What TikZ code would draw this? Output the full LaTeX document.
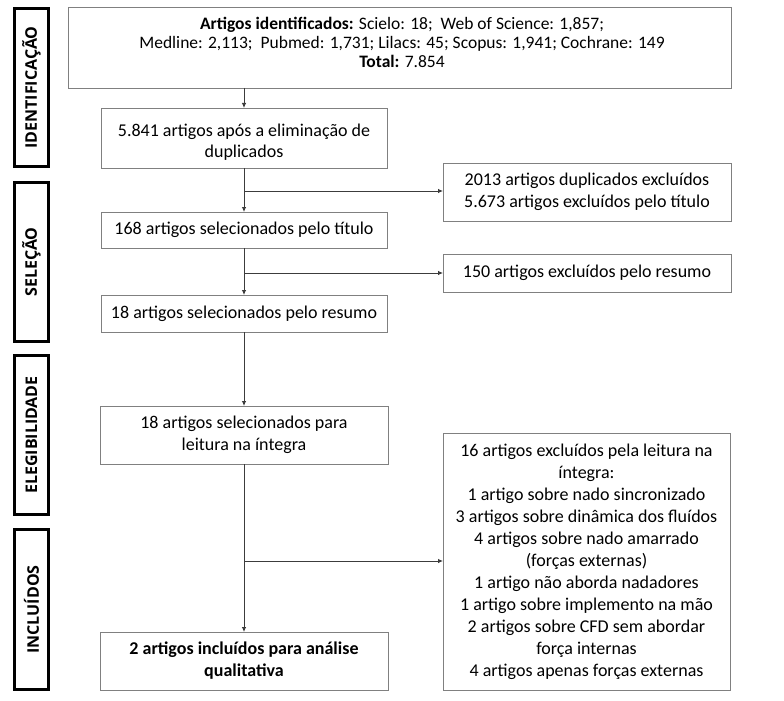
\documentclass[tikz,border=0pt]{standalone}
\usepackage{fontspec}
\setmainfont{Carlito}
\newfontfamily\labelfont{Open Sans}
\usetikzlibrary{arrows.meta}
\definecolor{boxgray}{RGB}{128,128,128}
\definecolor{linegray}{RGB}{60,60,60}
\tikzset{
  every node/.style={inner sep=0pt, outer sep=0pt},
  mainbox/.style={draw=boxgray, line width=0.9bp, align=center, font=\fontsize{18bp}{22bp}\selectfont},
  topbox/.style={draw=boxgray, line width=0.9bp, align=center, font=\fontsize{17.5bp}{19bp}\selectfont},
  phase/.style={draw=black, line width=2.6bp, rotate=90, font=\labelfont\bfseries\fontsize{16bp}{19bp}\selectfont},
  txt/.style={align=center, font=\fontsize{17.5bp}{19bp}\selectfont},
  arr/.style={draw=linegray, line width=0.8bp, -{Latex[length=5bp,width=4.5bp]}},
  ln/.style={draw=linegray, line width=0.8bp}
}
\begin{document}
\begin{tikzpicture}[x=1bp,y=-1bp]
\useasboundingbox (0,0) rectangle (784,701);
% phase labels
\node[phase, minimum width=158bp, minimum height=34bp] (L1) at (31.5,87.5) {IDENTIFICAÇÃO};
\node[phase, minimum width=159bp, minimum height=34bp] (L2) at (31.5,262) {SELEÇÃO};
\node[phase, minimum width=159bp, minimum height=34bp] (L3) at (31.5,435) {ELEGIBILIDADE};
\node[phase, minimum width=160bp, minimum height=34bp] (L4) at (31.5,609.5) {INCLUÍDOS};
% main column
\node[topbox, minimum width=663bp, minimum height=81bp] (top) at (399.5,47.5) {};
\node[txt] (toptext) at (402,42)
  {\textbf{Artigos identificados:} Scielo: 18;\ \ Web of Science: 1,857;\\
   Medline: 2,113;\ \ Pubmed: 1,731; Lilacs: 45; Scopus: 1,941; Cochrane: 149\\
   \textbf{Total:} 7.854};
\node[mainbox, minimum width=286bp, minimum height=60bp] (b2) at (244,138) {};
\node[align=center, font=\fontsize{18bp}{21bp}\selectfont] (b2text) at (244,142)
  {5.841 artigos após a eliminação de\\ duplicados};
\node[mainbox, minimum width=286bp, minimum height=36bp] (b3) at (244,230)
  {168 artigos selecionados pelo título};
\node[mainbox, minimum width=286bp, minimum height=37bp] (b4) at (244,313.5)
  {18 artigos selecionados pelo resumo};
\node[mainbox, minimum width=288bp, minimum height=58bp] (b5) at (244,435)
  {18 artigos selecionados para\\ leitura na íntegra};
\node[mainbox, minimum width=288bp, minimum height=58bp] (b6) at (244,661)
  {\textbf{2 artigos incluídos para análise}\\ \textbf{qualitativa}};
% right column
\node[mainbox, minimum width=288bp, minimum height=58bp] (r1) at (587,192)
  {2013 artigos duplicados excluídos\\ 5.673 artigos excluídos pelo título};
\node[mainbox, minimum width=288bp, minimum height=38bp] (r2) at (587,273)
  {150 artigos excluídos pelo resumo};
\node[mainbox, minimum width=287bp, minimum height=257bp] (r3) at (586.5,561.5)
  {16 artigos excluídos pela leitura na\\ íntegra:\\ 1 artigo sobre nado sincronizado\\
   3 artigos sobre dinâmica dos fluídos\\ 4 artigos sobre nado amarrado\\ (forças externas)\\
   1 artigo não aborda nadadores\\ 1 artigo sobre implemento na mão\\
   2 artigos sobre CFD sem abordar\\ força internas\\ 4 artigos apenas forças externas};
% junctions
\coordinate (j1) at (244,191);
\coordinate (j2) at (244,273);
\coordinate (j3) at (244,561);
% connectors
\draw[arr] (b2.north |- top.south) -- (b2.north);
\draw[arr] (b2.south) -- (b3.north);
\draw[arr] (b3.south) -- (b4.north);
\draw[arr] (b4.south) -- (b5.north);
\draw[arr] (b5.south) -- (b6.north);
\draw[arr] (j1) -- (j1 -| r1.west);
\draw[arr] (j2) -- (j2 -| r2.west);
\draw[arr] (j3) -- (j3 -| r3.west);
\end{tikzpicture}
\end{document}
